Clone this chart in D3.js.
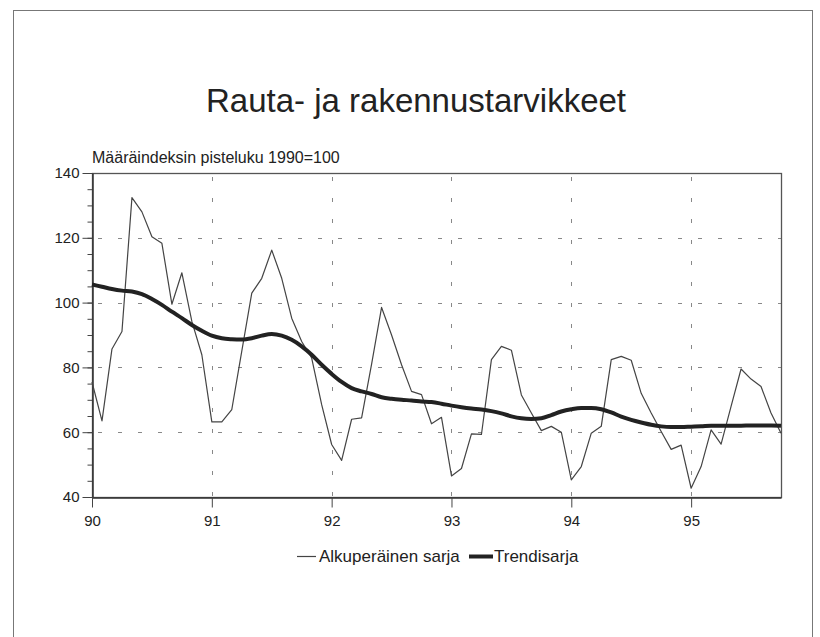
<!DOCTYPE html>
<html>
<head>
<meta charset="utf-8">
<script src="https://cdn.jsdelivr.net/npm/d3@7"></script>
<style>
  body { margin: 0; background: #fff; }
  svg text { font-family: "Liberation Sans", Arial, Helvetica, sans-serif; fill: #222; }
</style>
</head>
<body>
<div id="chart"></div>
<script>
// monthly index values, 1990-01 .. 1995-10
const startYear = 90;
const original = [
  75.5, 63.5, 85.7, 91.1, 132.4, 128, 120.3, 118.3, 99.5, 109.2, 94.2, 83.9,
  63.2, 63.2, 67, 85, 102.9, 107.5, 116.2, 107.5, 95.2, 88, 82.9, 68.5,
  56.2, 51.3, 64, 64.4, 81, 98.5, 90, 80.8, 72.6, 71.6, 62.6, 64.6,
  46.5, 48.8, 59.5, 59.3, 82.4, 86.5, 85.3, 71.5, 65.9, 60.5, 61.8, 60,
  45.3, 49.4, 59.7, 61.8, 82.4, 83.4, 82.2, 72, 65.9, 60.2, 54.7, 56,
  42.7, 49.4, 60.7, 56.3, 68, 79.5, 76.4, 74.1, 65.9, 59.7
];
const trend = [
  105.6, 104.9, 104.2, 103.7, 103.4, 102.6, 101.1, 99.3, 97.2, 95.2, 93.1, 91.3,
  89.8, 89, 88.7, 88.6, 89, 89.8, 90.3, 89.8, 88.5, 86.5, 83.9, 80.8,
  78, 75.5, 73.6, 72.6, 71.8, 70.8, 70.3, 70, 69.8, 69.5, 69.3, 68.8,
  68.2, 67.7, 67.3, 67, 66.5, 65.8, 64.9, 64.3, 64.1, 64.3, 65.3, 66.4,
  67.1, 67.5, 67.5, 67.1, 66.1, 64.8, 63.8, 63, 62.3, 61.8, 61.6, 61.6,
  61.7, 61.8, 62, 62, 62, 62, 62.1, 62.1, 62.1, 62
];
const yearTicks = [90, 91, 92, 93, 94, 95];
const yTicks = [40, 60, 80, 100, 120, 140];
const yMinorTicks = d3.range(40, 141, 5);

const width = 820, height = 637;
const margin = {left: 92, right: 39, top: 173, bottom: 140};

const svg = d3.select("#chart").append("svg")
    .attr("width", width)
    .attr("height", height);

// outer frame of the page
svg.append("rect")
    .attr("x", 13.5).attr("y", 10.5)
    .attr("width", 799).attr("height", 650)
    .attr("fill", "none")
    .attr("stroke", "#777")
    .attr("stroke-width", 1);

let x = d3.scaleLinear()
    .domain([startYear, startYear + (original.length - 1) / 12])
    .range([margin.left, width - margin.right]);

let y = d3.scaleLinear()
    .domain([40, 140])
    .range([height - margin.bottom, margin.top]);

// title + subtitle
svg.append("text")
    .attr("x", 416)
    .attr("y", 112)
    .attr("text-anchor", "middle")
    .style("font-size", "33px")
    .text("Rauta- ja rakennustarvikkeet");

svg.append("text")
    .attr("x", margin.left)
    .attr("y", 163)
    .style("font-size", "16px")
    .text("Määräindeksin pisteluku 1990=100");

// grid
svg.append("g")
    .selectAll("line")
    .data(yTicks.filter(d => d > 40 && d < 140))
    .join("line")
    .attr("x1", x.range()[0]).attr("x2", x.range()[1])
    .attr("y1", d => Math.round(y(d)) + 0.5)
    .attr("y2", d => Math.round(y(d)) + 0.5)
    .attr("stroke", "#888")
    .attr("stroke-dasharray", "4,16")
    .attr("stroke-dashoffset", -6);

svg.append("g")
    .selectAll("line")
    .data(yearTicks.slice(1))
    .join("line")
    .attr("x1", d => Math.round(x(d)) + 0.5)
    .attr("x2", d => Math.round(x(d)) + 0.5)
    .attr("y1", y.range()[1]).attr("y2", y.range()[0])
    .attr("stroke", "#888")
    .attr("stroke-dasharray", "4,17")
    .attr("stroke-dashoffset", -4);

// plot frame (top + right)
svg.append("rect")
    .attr("x", x.range()[0] + 0.5)
    .attr("y", y.range()[1] + 0.5)
    .attr("width", x.range()[1] - x.range()[0])
    .attr("height", y.range()[0] - y.range()[1])
    .attr("fill", "none")
    .attr("stroke", "#555")
    .attr("stroke-width", 1.3);

// axes
let yMinor = svg.append("g")
    .attr("transform", `translate(${margin.left + 0.5},0)`)
    .call(d3.axisLeft(y).tickValues(yMinorTicks).tickSize(5).tickFormat(""));
yMinor.select(".domain").remove();
yMinor.selectAll("line").attr("stroke", "#444");

let yAxis = svg.append("g")
    .attr("transform", `translate(${margin.left + 0.5},0)`)
    .call(d3.axisLeft(y).tickValues(yTicks).tickSize(10).tickPadding(3).tickSizeOuter(0));
yAxis.select(".domain").attr("stroke", "#333").attr("stroke-width", 1.5);
yAxis.selectAll("line").attr("stroke", "#444");
yAxis.selectAll("text").style("font-size", "15px").attr("fill", "#222");

let xAxis = svg.append("g")
    .attr("transform", `translate(0,${height - margin.bottom + 0.5})`)
    .call(d3.axisBottom(x).tickValues(yearTicks).tickFormat(d3.format("d"))
        .tickSize(10).tickPadding(8).tickSizeOuter(0));
xAxis.select(".domain").attr("stroke", "#333").attr("stroke-width", 1.5);
xAxis.selectAll("line").attr("stroke", "#444");
xAxis.selectAll("text").style("font-size", "15px").attr("fill", "#222");

// series
let line = d3.line()
    .x((d, i) => x(startYear + i / 12))
    .y(d => y(d));

svg.append("path")
    .datum(original)
    .attr("fill", "none")
    .attr("stroke", "#444")
    .attr("stroke-width", 1.2)
    .attr("stroke-linejoin", "round")
    .attr("d", line);

svg.append("path")
    .datum(trend)
    .attr("fill", "none")
    .attr("stroke", "#222")
    .attr("stroke-width", 4)
    .attr("stroke-linejoin", "round")
    .attr("d", line.curve(d3.curveMonotoneX));

// legend
let legend = svg.append("g");
legend.append("line")
    .attr("x1", 297).attr("x2", 316)
    .attr("y1", 556.5).attr("y2", 556.5)
    .attr("stroke", "#444").attr("stroke-width", 1.2);
legend.append("text")
    .attr("x", 319).attr("y", 562)
    .style("font-size", "17px")
    .text("Alkuperäinen sarja");
legend.append("line")
    .attr("x1", 469).attr("x2", 493)
    .attr("y1", 556.5).attr("y2", 556.5)
    .attr("stroke", "#222").attr("stroke-width", 4);
legend.append("text")
    .attr("x", 494).attr("y", 562)
    .style("font-size", "17px")
    .text("Trendisarja");
</script>
</body>
</html>
